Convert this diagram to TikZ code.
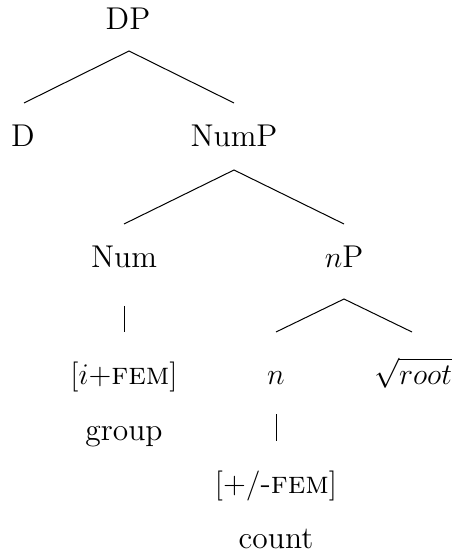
\documentclass[tikz,border=0pt]{standalone}
\begin{document}
\begin{tikzpicture}[x=0.4pt,y=-0.4pt,
  lab/.style={anchor=base,inner sep=0pt,font=\fontsize{12.6}{15}\selectfont},
  edge/.style={line width=0.4pt}]
\useasboundingbox (0,0) rectangle (455,557);
% labels
\node[lab] (DP) at (128,30) {DP};
\node[lab] (D) at (23,147) {D};
\node[lab] (NumP) at (234,147) {NumP};
\node[lab] (Num) at (124,268) {Num};
\node[lab] (nP) at (344,268) {$n$P};
\node[lab] (feat1) at (124,384) {$[i{+}$\textsc{fem}$]$};
\node[lab] (n) at (276,384) {$n$};
\node[lab] (root) at (413,384) {$\sqrt{root}$};
\node[lab] (group) at (124,440) {group};
\node[lab] (feat2) at (276,493) {$[{+}/$-\textsc{fem}$]$};
\node[lab] (count) at (276,548) {count};
% branch points
\coordinate (DPb) at (129,51);
\coordinate (Dt) at (24,103);
\coordinate (NumPt) at (234,103);
\coordinate (NumPb) at (234,170);
\coordinate (Numt) at (124,224);
\coordinate (nPt) at (344,224);
\coordinate (Numb) at (124.5,306);
\coordinate (feat1t) at (124.5,332);
\coordinate (nPb) at (344,299);
\coordinate (nt) at (276,332);
\coordinate (roott) at (412,332);
\coordinate (nb) at (276.5,414);
\coordinate (feat2t) at (276.5,441);
% edges
\draw[edge] (Dt) -- (DPb) -- (NumPt);
\draw[edge] (Numt) -- (NumPb) -- (nPt);
\draw[edge] (Numb) -- (feat1t);
\draw[edge] (nt) -- (nPb) -- (roott);
\draw[edge] (nb) -- (feat2t);
\end{tikzpicture}
\end{document}
